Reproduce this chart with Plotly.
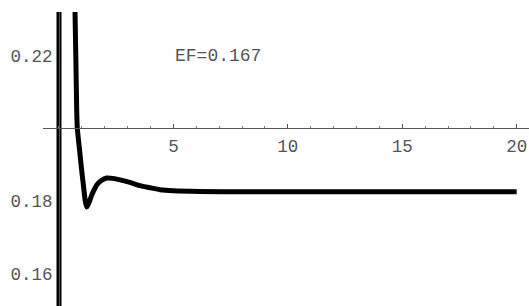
import plotly.graph_objects as go

# data
pole_x = [0.0, 0.0]
pole_y = [0.14, 0.26]
curve_x = [0.55, 0.68, 0.70, 0.74, 0.774, 0.80, 0.90, 0.99, 1.09, 1.15, 1.21,
           1.27, 1.35, 1.43, 1.54, 1.65, 1.85, 2.08, 2.35, 2.67, 3.10, 3.54, 4.0, 4.41,
           5.0, 6.16, 8.0, 12, 16, 20]
curve_y = [0.26, 0.240, 0.232, 0.218, 0.2051, 0.2001, 0.1940, 0.1886, 0.1831,
           0.1800, 0.1784, 0.1790, 0.1803, 0.1817, 0.1832, 0.1845, 0.1857, 0.1864, 0.1863,
           0.1859, 0.1852, 0.1843, 0.1837, 0.1832, 0.1829, 0.1827, 0.1826, 0.1826,
           0.1826, 0.1826]
x_ticks = [5, 10, 15, 20]
y_ticks = [0.16, 0.18, 0.22]
y_tick_labels = ["0.16", "0.18", "0.22"]
label_text = "EF=0.167"
label_x, label_y = 6.93, 0.2199

x_range = [-0.699, 20.54]
y_range = [0.15124, 0.2320]
x_cross = 0.2   # y value where the x axis sits
y_cross = 0.0   # x value where the y axis sits

font = dict(family="Liberation Mono, Courier New, monospace", size=17.5, color="#555555")

fig = go.Figure()
fig.add_trace(go.Scatter(x=pole_x, y=pole_y, mode="lines",
                         line=dict(color="black", width=5), showlegend=False,
                         hoverinfo="skip"))
fig.add_trace(go.Scatter(x=curve_x, y=curve_y, mode="lines",
                         line=dict(color="black", width=5, shape="spline", smoothing=0.6),
                         showlegend=False, hoverinfo="skip"))

fig.add_annotation(x=label_x, y=label_y, xref="x", yref="y", text=label_text,
                   showarrow=False, font=dict(font, size=18))

xpos = (x_cross - y_range[0]) / (y_range[1] - y_range[0])
ypos = (y_cross - x_range[0]) / (x_range[1] - x_range[0])

fig.update_layout(
    width=529, height=306,
    margin=dict(l=43, r=0, t=12, b=0, autoexpand=False),
    paper_bgcolor="white", plot_bgcolor="white",
    xaxis=dict(range=x_range, anchor="free", position=xpos, automargin=False,
               showline=True, linecolor="#555555", linewidth=1,
               showgrid=False, zeroline=False,
               tickvals=x_ticks, ticks="inside", ticklen=4, tickwidth=1,
               tickcolor="#555555", tickfont=font, ticklabelstandoff=2,
               minor=dict(dtick=1, tick0=0, ticks="inside", ticklen=2,
                          tickcolor="#777777", showgrid=False)),
    yaxis=dict(range=y_range, anchor="free", position=ypos, automargin=False,
               showline=True, linecolor="#555555", linewidth=1,
               showgrid=False, zeroline=False,
               tickvals=y_ticks, ticktext=y_tick_labels, ticks="",
               tickfont=font, ticklabelstandoff=3),
)

fig.write_html("out.html", config={"displayModeBar": False},
               post_script="document.body.style.margin='0px';"
                           "document.body.style.overflow='hidden';")
